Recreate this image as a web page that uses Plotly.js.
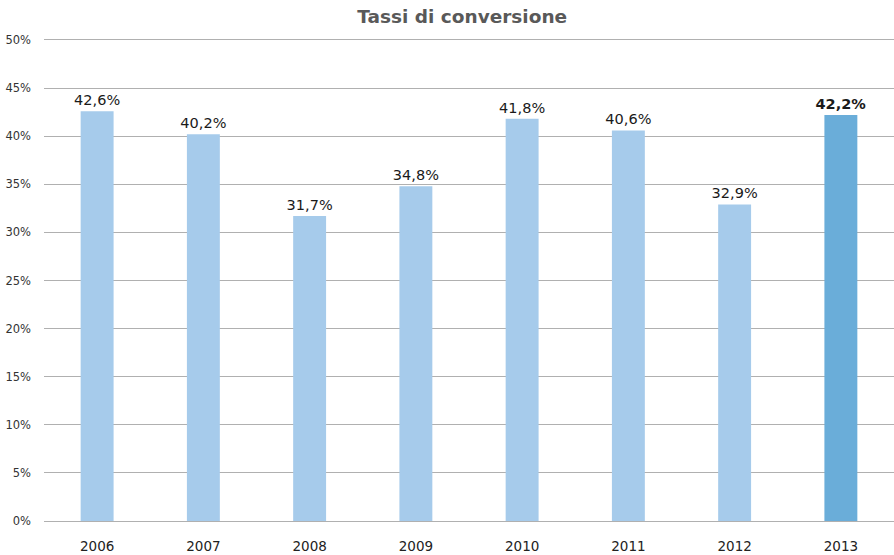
<!DOCTYPE html>
<html><head><meta charset="utf-8">
<script src="https://cdn.plot.ly/plotly-3.0.1.min.js"></script>
<style>html,body{margin:0;padding:0;background:#fff}#chart{width:894px;height:555px}</style>
</head><body><div id="chart"></div>
<script>
var years = ['2006','2007','2008','2009','2010','2011','2012','2013'];
var rates = [42.6, 40.2, 31.7, 34.8, 41.8, 40.6, 32.9, 42.2];
var highlightYear = '2013';
var yTicks = [0,5,10,15,20,25,30,35,40,45,50];

var colors = years.map(function(y){ return y === highlightYear ? '#6AADD9' : '#A6CBEB'; });
var labels = rates.map(function(v, i){
  var s = v.toFixed(1).replace('.', ',') + '%';
  return years[i] === highlightYear ? '<b>' + s + '</b>' : s;
});

var font = '"DejaVu Sans", sans-serif';
var trace = {
  type: 'bar', x: years, y: rates,
  marker: {color: colors, line: {width: 0}},
  width: 0.31,
  text: labels, textposition: 'outside', cliponaxis: false, constraintext: 'none',
  textfont: {family: font, size: 14.5, color: '#1a1a1a'},
  hoverinfo: 'none'
};
var layout = {
  width: 894, height: 555,
  margin: {l: 44, r: 0, t: 38, b: 32},
  paper_bgcolor: '#fff', plot_bgcolor: '#fff',
  showlegend: false,
  title: {text: '<b>Tassi di conversione</b>', x: 0.517, xanchor: 'center', y: 0.971, yanchor: 'middle',
          font: {family: font, size: 18.5, color: '#595959'}},
  xaxis: {type: 'category', range: [-0.5, 7.5], showgrid: false, zeroline: false, showline: false,
          ticks: '', ticklabelstandoff: 13, tickfont: {family: font, size: 13.5, color: '#222'}},
  yaxis: {range: [-0.2, 50.2], tickvals: yTicks, ticktext: yTicks.map(function(t){return t + '%';}),
          showgrid: true, gridcolor: '#B0B0B0', gridwidth: 1, zeroline: false, showline: false,
          ticks: '', ticklabelstandoff: 12,
          tickfont: {family: font, size: 11.5, color: '#333'}}
};
Plotly.newPlot('chart', [trace], layout, {displayModeBar: false, staticPlot: true});
</script></body></html>
